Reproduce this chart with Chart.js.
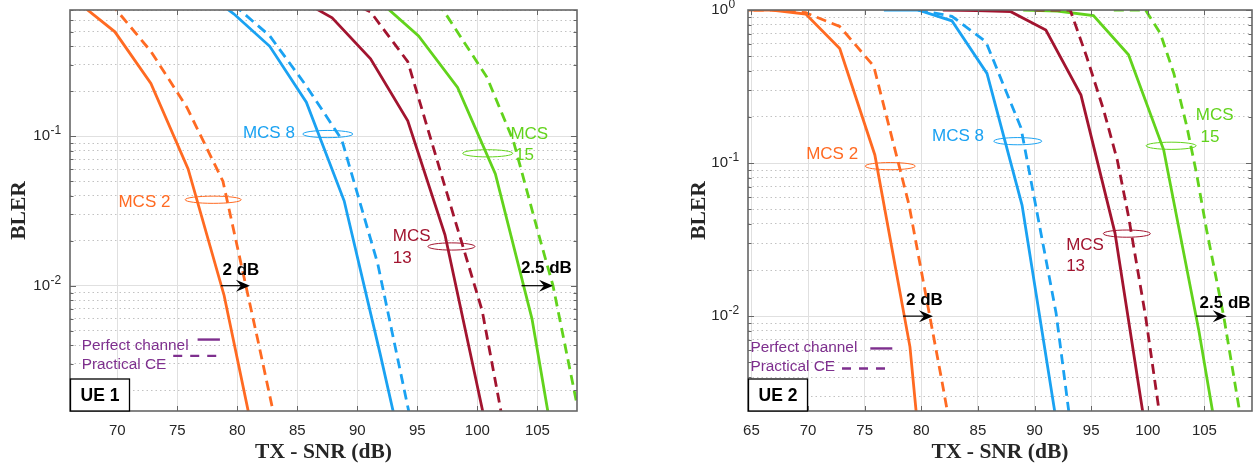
<!DOCTYPE html>
<html>
<head>
<meta charset="utf-8">
<script src="https://cdn.jsdelivr.net/npm/chart.js@4.4.1/dist/chart.umd.min.js"></script>
<style>
  html, body { margin: 0; padding: 0; background: #fff; }
  #wrap { position: relative; width: 1254px; height: 466px; overflow: hidden; }
  #ue1 { position: absolute; left: 0; top: 0; }
  #ue2 { position: absolute; left: 660px; top: 0; }
</style>
</head>
<body>
<div id="wrap">
  <canvas id="ue1" width="600" height="466"></canvas>
  <canvas id="ue2" width="594" height="466"></canvas>
</div>
<script>
// =========================
// DATA
// =========================

// ---- UE 1 ----
const ue1Mcs2PerfX  = [66.8, 69.8, 72.8, 75.9, 78.9, 81.9];
const ue1Mcs2PerfY  = [0.78, 0.50, 0.226, 0.0605, 0.0086, 0.0006];
const ue1Mcs2PracX  = [66.8, 69.8, 72.8, 75.8, 78.8, 81.8, 84.8];
const ue1Mcs2PracY  = [0.9, 0.72, 0.37, 0.156, 0.05, 0.004, 0.0003];

const ue1Mcs8PerfX  = [76.7, 79.7, 82.7, 85.75, 88.9, 91.9, 94.9];
const ue1Mcs8PerfY  = [1.0, 0.66, 0.40, 0.169, 0.037, 0.0035, 0.0003];
const ue1Mcs8PracX  = [79.7, 82.7, 85.7, 88.7, 91.7, 94.7];
const ue1Mcs8PracY  = [0.76, 0.47, 0.22, 0.095, 0.014, 0.001];

const ue1Mcs13PerfX = [84.9, 87.9, 91.1, 94.2, 97.3, 100.4, 103.4];
const ue1Mcs13PerfY = [0.85, 0.62, 0.33, 0.127, 0.0219, 0.0015, 0.0001];
const ue1Mcs13PracX = [87.9, 91.1, 94.2, 97.3, 100.4, 103.4];
const ue1Mcs13PracY = [0.9, 0.68, 0.316, 0.046, 0.0068, 0.00035];

const ue1Mcs15PerfX = [92.0, 95.1, 98.35, 101.5, 104.55, 107.7];
const ue1Mcs15PerfY = [0.78, 0.47, 0.212, 0.056, 0.006, 0.0002];
const ue1Mcs15PracX = [95.5, 97.2, 100.8, 103.0, 105.25, 106.3, 108.3, 110.0];
const ue1Mcs15PracY = [0.9, 0.69, 0.248, 0.093, 0.020, 0.010, 0.0016, 0.0003];

// ---- UE 2 ----
const ue2Mcs2PerfX  = [63.8, 66.8, 69.8, 72.8, 75.9, 79.0, 82.0];
const ue2Mcs2PerfY  = [1.0, 1.0, 0.94, 0.56, 0.113, 0.0063, 0.00003];
const ue2Mcs2PracX  = [63.8, 66.8, 69.8, 72.8, 75.8, 78.9, 81.9, 84.9];
const ue2Mcs2PracY  = [1.0, 1.0, 0.96, 0.78, 0.43, 0.054, 0.0035, 0.0002];

const ue2Mcs8PerfX  = [76.7, 79.7, 82.7, 85.8, 88.9, 91.9, 94.9];
const ue2Mcs8PerfY  = [1.0, 1.0, 0.85, 0.385, 0.053, 0.0021, 0.00005];
const ue2Mcs8PracX  = [79.7, 82.7, 85.7, 88.8, 91.9, 94.9];
const ue2Mcs8PracY  = [1.0, 0.91, 0.62, 0.17, 0.0105, 0.0002];

const ue2Mcs13PerfX = [81.9, 84.9, 87.9, 91.0, 94.1, 97.1, 100.1];
const ue2Mcs13PerfY = [1.0, 0.99, 0.975, 0.74, 0.278, 0.035, 0.0013];
const ue2Mcs13PracX = [90.0, 93.15, 94.6, 96.1, 97.3, 98.3, 99.8, 101.0, 102.5];
const ue2Mcs13PracY = [1.0, 1.0, 0.495, 0.222, 0.105, 0.0447, 0.010, 0.0024, 0.0004];

const ue2Mcs15PerfX = [89.0, 92.0, 95.2, 98.3, 101.4, 104.5, 107.5];
const ue2Mcs15PerfY = [1.0, 0.985, 0.92, 0.51, 0.122, 0.0081, 0.0004];
const ue2Mcs15PracX = [97.0, 99.8, 101.1, 102.3, 103.45, 104.3, 105.2, 106.7, 108.1, 110.0];
const ue2Mcs15PracY = [1.0, 1.0, 0.705, 0.385, 0.173, 0.0857, 0.0363, 0.010, 0.0024, 0.0003];

// tick labels
const ue1XTicks = [70, 75, 80, 85, 90, 95, 100, 105];
const ue2XTicks = [65, 70, 75, 80, 85, 90, 95, 100, 105];
const decadeExps = [-4, -3, -2, -1, 0];
const xTitle = "TX - SNR (dB)";
const yTitle = "BLER";


// =========================
// STYLE
// =========================

const COL_MCS2 = "#FF6A22";
const COL_MCS8 = "#1AA2F2";
const COL_MCS13 = "#A2142F";
const COL_MCS15 = "#62D31C";
const COL_LEG = "#7E2F8E";
const FRAME = "#666666";
const TXT = "#262626";
const SANS = '"Liberation Sans", Arial, Helvetica, sans-serif';
const SERIF = '"Liberation Serif", "Times New Roman", serif';
const Y_LABEL_PAD = 20;   // room left for the exponent


// =========================
// ANNOTATIONS (data coords)
// =========================

const ue1Notes = {
  box: "UE 1",
  texts: [
    { text: "MCS 2", x: 72.26, y: 0.0362, color: COL_MCS2 },
    { text: "MCS 8", x: 82.63, y: 0.1054, color: COL_MCS8 },
    { text: "MCS", x: 102.75, y: 0.1038, color: COL_MCS15, align: "left" },
    { text: " 15", x: 102.75, y: 0.0743, color: COL_MCS15, align: "left" },
    { text: "MCS", x: 92.95, y: 0.0215, color: COL_MCS13, align: "left" },
    { text: "13", x: 92.95, y: 0.0152, color: COL_MCS13, align: "left" },
    { text: "2 dB", x: 80.3, y: 0.01265, color: "#000", bold: true },
    { text: "2.5 dB", x: 105.75, y: 0.0131, color: "#000", bold: true },
    { text: "Perfect channel", x: 67.03, y: 0.00395, color: COL_LEG, align: "left", size: 15.4 },
    { text: "Practical CE", x: 67.03, y: 0.00294, color: COL_LEG, align: "left", size: 15.4 }
  ],
  ellipses: [
    { x: 77.99, y: 0.0376, rx: 28, color: COL_MCS2 },
    { x: 87.54, y: 0.1035, rx: 25, color: COL_MCS8 },
    { x: 100.86, y: 0.0769, rx: 25, color: COL_MCS15 },
    { x: 97.84, y: 0.0183, rx: 23.5, color: COL_MCS13 }
  ],
  arrows: [
    { x1: 78.63, x2: 81.05, y: 0.01 },
    { x1: 103.67, x2: 106.3, y: 0.01 }
  ],
  keys: [
    { x1: 76.69, x2: 78.55, y: 0.00436, dashed: false },
    { x1: 74.66, x2: 78.49, y: 0.00339, dashed: true }
  ]
};

const ue2Notes = {
  box: "UE 2",
  texts: [
    { text: "MCS 2", x: 72.13, y: 0.1145, color: COL_MCS2 },
    { text: "MCS 8", x: 83.25, y: 0.1485, color: COL_MCS8 },
    { text: "MCS", x: 104.24, y: 0.206, color: COL_MCS15, align: "left" },
    { text: " 15", x: 104.24, y: 0.147, color: COL_MCS15, align: "left" },
    { text: "MCS", x: 92.79, y: 0.0291, color: COL_MCS13, align: "left" },
    { text: "13", x: 92.79, y: 0.021, color: COL_MCS13, align: "left" },
    { text: "2 dB", x: 80.28, y: 0.0126, color: "#000", bold: true },
    { text: "2.5 dB", x: 106.82, y: 0.0122, color: "#000", bold: true },
    { text: "Perfect channel", x: 64.91, y: 0.00624, color: COL_LEG, align: "left", size: 15.4 },
    { text: "Practical CE", x: 64.91, y: 0.00466, color: COL_LEG, align: "left", size: 15.4 }
  ],
  ellipses: [
    { x: 77.26, y: 0.0955, rx: 25, color: COL_MCS2 },
    { x: 88.52, y: 0.139, rx: 24, color: COL_MCS8 },
    { x: 102.06, y: 0.1297, rx: 25, color: COL_MCS15 },
    { x: 98.15, y: 0.0346, rx: 23.5, color: COL_MCS13 }
  ],
  arrows: [
    { x1: 78.39, x2: 81.03, y: 0.01 },
    { x1: 104.26, x2: 106.97, y: 0.01 }
  ],
  keys: [
    { x1: 75.5, x2: 77.44, y: 0.00615, dashed: false },
    { x1: 73.0, x2: 77.11, y: 0.00455, dashed: true }
  ]
};


// =========================
// HELPERS
// =========================

function series(xs, ys, color, dashed) {
  return {
    data: xs.map((x, i) => ({ x, y: ys[i] })),
    borderColor: color,
    borderWidth: 2.8,
    borderDash: dashed ? [10, 6] : [],
    pointRadius: 0,
    tension: 0,
    fill: false,
    clip: 0
  };
}

function isDecade(v) {
  const e = Math.round(Math.log10(v));
  return Math.abs(v / Math.pow(10, e) - 1) < 1e-6;
}

function logTicks(min, max) {
  const out = [];
  decadeExps.forEach(e => {
    for (let m = 1; m <= 9; m++) {
      const v = +(m * Math.pow(10, e)).toPrecision(3);
      if (v >= min && v <= max * 1.0001) out.push({ value: v, major: m === 1 });
    }
  });
  return out;
}

function makeNotes(notes) {
  return {
    id: "notes",
    afterDatasetsDraw(chart) {
      const { ctx, chartArea: a, scales } = chart;
      const X = v => scales.x.getPixelForValue(v);
      const Y = v => scales.y.getPixelForValue(v);
      ctx.save();

      // exponents of the y tick labels ("10" comes from the axis itself)
      ctx.fillStyle = TXT;
      ctx.font = "12px " + SANS;
      ctx.textAlign = "left";
      ctx.textBaseline = "middle";
      scales.y.ticks.forEach(t => {
        if (!isDecade(t.value)) return;
        const e = Math.round(Math.log10(t.value));
        ctx.fillText(String(e), scales.y.right - Y_LABEL_PAD + 0.5, Y(t.value) - 5.5);
      });

      // inward tick marks + box
      ctx.strokeStyle = FRAME;
      ctx.lineWidth = 1;
      ctx.beginPath();
      scales.x.ticks.forEach(t => {
        const px = Math.round(X(t.value)) + 0.5;
        ctx.moveTo(px, a.bottom); ctx.lineTo(px, a.bottom - 5);
        ctx.moveTo(px, a.top); ctx.lineTo(px, a.top + 5);
      });
      scales.y.ticks.forEach(t => {
        const py = Math.round(Y(t.value)) + 0.5;
        const len = isDecade(t.value) ? 6 : 3.5;
        ctx.moveTo(a.left, py); ctx.lineTo(a.left + len, py);
        ctx.moveTo(a.right, py); ctx.lineTo(a.right - len, py);
      });
      ctx.stroke();
      ctx.lineWidth = 1.6;
      ctx.strokeRect(a.left, a.top, a.right - a.left, a.bottom - a.top);

      // ellipses
      ctx.lineWidth = 1;
      notes.ellipses.forEach(e => {
        ctx.strokeStyle = e.color;
        ctx.beginPath();
        ctx.ellipse(X(e.x), Y(e.y), e.rx, 3.6, 0, 0, Math.PI * 2);
        ctx.stroke();
      });

      // arrows
      notes.arrows.forEach(r => {
        const x1 = X(r.x1), x2 = X(r.x2), py = Y(r.y);
        ctx.strokeStyle = "#000";
        ctx.fillStyle = "#000";
        ctx.lineWidth = 1.2;
        ctx.beginPath(); ctx.moveTo(x1, py); ctx.lineTo(x2 - 6, py); ctx.stroke();
        ctx.beginPath();
        ctx.moveTo(x2, py);
        ctx.lineTo(x2 - 14, py - 6);
        ctx.lineTo(x2 - 9, py);
        ctx.lineTo(x2 - 14, py + 6);
        ctx.closePath();
        ctx.fill();
      });

      // legend keys
      ctx.strokeStyle = COL_LEG;
      ctx.lineWidth = 2.4;
      notes.keys.forEach(k => {
        ctx.setLineDash(k.dashed ? [9, 8] : []);
        ctx.beginPath(); ctx.moveTo(X(k.x1), Y(k.y)); ctx.lineTo(X(k.x2), Y(k.y)); ctx.stroke();
      });
      ctx.setLineDash([]);

      // texts
      ctx.textBaseline = "middle";
      notes.texts.forEach(t => {
        ctx.font = (t.bold ? "bold " : "") + (t.size || 17) + "px " + SANS;
        ctx.fillStyle = t.color;
        ctx.textAlign = t.align || "center";
        ctx.fillText(t.text, X(t.x), Y(t.y));
      });

      // UE box in lower-left corner
      const bw = 59, bh = 32;
      ctx.fillStyle = "#fff";
      ctx.fillRect(a.left, a.bottom - bh, bw, bh);
      ctx.strokeStyle = "#000";
      ctx.lineWidth = 1.3;
      ctx.strokeRect(a.left + 0.5, a.bottom - bh, bw, bh);
      ctx.fillStyle = "#000";
      ctx.font = "bold 17.5px " + SANS;
      ctx.textAlign = "center";
      ctx.fillText(notes.box, a.left + bw / 2 + 0.5, a.bottom - bh / 2 + 1);

      ctx.restore();
    }
  };
}

function buildChart(canvasId, datasets, cfg) {
  new Chart(document.getElementById(canvasId), {
    type: "line",
    data: { datasets },
    options: {
      responsive: false,
      animation: false,
      devicePixelRatio: 1,
      events: [],
      layout: { padding: { left: 0, right: cfg.padRight, top: 10, bottom: 0 } },
      plugins: { legend: { display: false }, tooltip: { enabled: false } },
      scales: {
        x: {
          type: "linear",
          min: cfg.xMin,
          max: cfg.xMax,
          afterBuildTicks: s => { s.ticks = cfg.xTicks.map(v => ({ value: v })); },
          afterFit: s => { s.height = 55; s.paddingLeft = 0; s.paddingRight = 0; },
          grid: { color: "#e0e0e0", lineWidth: 1, drawTicks: false },
          border: { display: false },
          ticks: {
            color: TXT,
            font: { family: SANS, size: 15 },
            padding: 11,
            maxRotation: 0,
            autoSkip: false,
            callback: v => String(v)
          },
          title: {
            display: true,
            text: xTitle,
            color: TXT,
            font: { family: SERIF, size: 21.5, weight: "bold" },
            padding: { top: 0, bottom: 1 }
          }
        },
        y: {
          type: "logarithmic",
          min: cfg.yMin,
          max: cfg.yMax,
          afterBuildTicks: s => { s.ticks = logTicks(cfg.yMin, cfg.yMax); },
          afterFit: s => { s.width = cfg.yWidth; s.paddingTop = 0; s.paddingBottom = 0; },
          grid: {
            drawTicks: false,
            lineWidth: 1,
            color: c => (c.tick && !isDecade(c.tick.value)) ? "#c2c2c2" : "#e0e0e0"
          },
          border: {
            display: false,
            dash: c => (c.tick && !isDecade(c.tick.value)) ? [1.5, 3] : []
          },
          ticks: {
            autoSkip: false,
            padding: Y_LABEL_PAD,
            color: TXT,
            font: { family: SANS, size: 15 },
            callback: v => (isDecade(v) ? "10" : "")
          },
          title: {
            display: true,
            text: yTitle,
            color: TXT,
            font: { family: SERIF, size: 21.5, weight: "bold" },
            padding: { top: cfg.yTitlePad, bottom: 0 }
          }
        }
      }
    },
    plugins: [makeNotes(cfg.notes)]
  });
}


// =========================
// RENDER
// =========================

buildChart("ue1", [
  series(ue1Mcs2PerfX, ue1Mcs2PerfY, COL_MCS2, false),
  series(ue1Mcs2PracX, ue1Mcs2PracY, COL_MCS2, true),
  series(ue1Mcs8PerfX, ue1Mcs8PerfY, COL_MCS8, false),
  series(ue1Mcs8PracX, ue1Mcs8PracY, COL_MCS8, true),
  series(ue1Mcs13PerfX, ue1Mcs13PerfY, COL_MCS13, false),
  series(ue1Mcs13PracX, ue1Mcs13PracY, COL_MCS13, true),
  series(ue1Mcs15PerfX, ue1Mcs15PerfY, COL_MCS15, false),
  series(ue1Mcs15PracX, ue1Mcs15PracY, COL_MCS15, true)
], {
  xMin: 66.06, xMax: 108.3, yMin: 0.00145, yMax: 0.7,
  xTicks: ue1XTicks, padRight: 23, yWidth: 70, yTitlePad: 7, notes: ue1Notes
});

buildChart("ue2", [
  series(ue2Mcs2PerfX, ue2Mcs2PerfY, COL_MCS2, false),
  series(ue2Mcs2PracX, ue2Mcs2PracY, COL_MCS2, true),
  series(ue2Mcs8PerfX, ue2Mcs8PerfY, COL_MCS8, false),
  series(ue2Mcs8PracX, ue2Mcs8PracY, COL_MCS8, true),
  series(ue2Mcs13PerfX, ue2Mcs13PerfY, COL_MCS13, false),
  series(ue2Mcs13PracX, ue2Mcs13PracY, COL_MCS13, true),
  series(ue2Mcs15PerfX, ue2Mcs15PerfY, COL_MCS15, false),
  series(ue2Mcs15PracX, ue2Mcs15PracY, COL_MCS15, true)
], {
  xMin: 64.7, xMax: 109.2, yMin: 0.0024, yMax: 1,
  xTicks: ue2XTicks, padRight: 2, yWidth: 88, yTitlePad: 27, notes: ue2Notes
});
</script>
</body>
</html>
